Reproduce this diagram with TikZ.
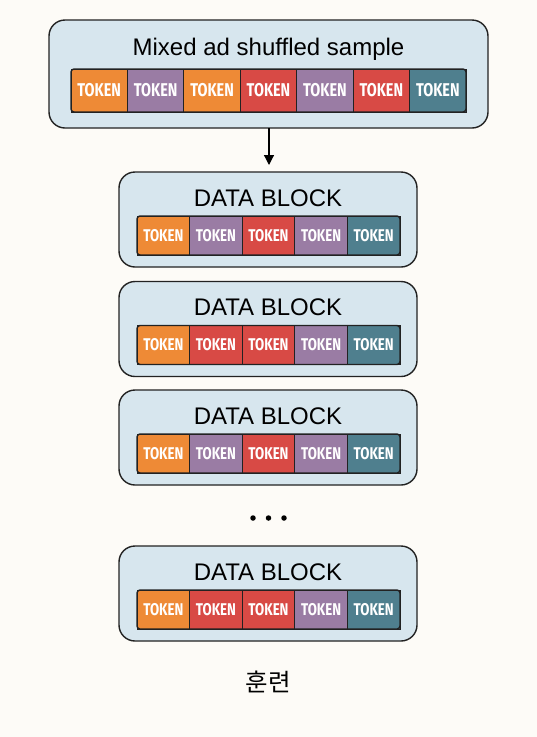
\documentclass[tikz,border=0pt]{standalone}
\usepackage{fontspec}
\setmainfont{Liberation Sans}
\newfontfamily\tokfont[FakeStretch=0.78]{Fira Sans}
\newfontfamily\krfont{Noto Sans CJK KR}
\usetikzlibrary{arrows.meta}
\definecolor{bg}{HTML}{FDFBF7}
\definecolor{boxfill}{HTML}{D7E6EE}
\definecolor{edge}{HTML}{222222}
\definecolor{tO}{HTML}{EE8A36}
\definecolor{tP}{HTML}{9A7CA4}
\definecolor{tR}{HTML}{D84A45}
\definecolor{tT}{HTML}{4F7F8E}
\tikzset{
  blockbox/.style={draw=edge, line width=1.4pt, fill=boxfill, rounded corners=16pt, inner sep=0pt},
  titletext/.style={font=\fontsize{24}{26}\selectfont, text=black, inner sep=0pt},
  tok/.style={draw=edge, line width=0.9pt, fill=#1, minimum height=39pt, minimum width=52.6pt, inner sep=0pt,
     text=white, font=\tokfont\bfseries\fontsize{17}{18}\selectfont},
  tokbig/.style={tok=#1, minimum height=43pt, minimum width=56.4pt, font=\tokfont\bfseries\fontsize{18.5}{19}\selectfont},
  stripframe/.style={draw=edge, line width=1.4pt, rounded corners=3pt, inner sep=0pt, fill=none},
  dot/.style={circle, fill=black, inner sep=0pt, minimum size=5.5pt},
  arr/.style={-{Triangle[width=10pt,length=10pt]}, line width=1.2pt, draw=black}
}
\begin{document}
\begin{tikzpicture}[x=1pt,y=-1pt]
\useasboundingbox[fill=bg] (0,0) rectangle (537,737);
% top box
\node[blockbox, minimum width=439pt, minimum height=108pt] (top) at (268.5,74) {};
\node[titletext] (toptitle) at (268.5,49) {Mixed ad shuffled sample};
\foreach \c [count=\i] in {tO,tP,tO,tR,tP,tR,tT}{
  \node[tokbig=\c] (top-t\i) at ({71+56.43*(\i-0.5)},90.5) {TOKEN};
}
\node[stripframe, minimum width=395pt, minimum height=43pt] (topstrip) at (268.5,90.5) {};
% data blocks
\foreach \n/\y/\cols in {1/219.5/{tO,tP,tR,tP,tT},2/329/{tO,tR,tR,tP,tT},3/437.5/{tO,tP,tR,tP,tT},4/593.5/{tO,tR,tR,tP,tT}}{
  \node[blockbox, minimum width=298pt, minimum height=95pt] (b\n) at (268,\y) {};
  \node[titletext] (b\n-title) at (268,\y-21.5) {DATA BLOCK};
  \foreach \c [count=\i] in \cols {
    \node[tok=\c] (b\n-t\i) at ({137+52.6*(\i-0.5)},\y+16) {TOKEN};
  }
  \node[stripframe, minimum width=263pt, minimum height=39pt] (b\n-strip) at (268.5,\y+16) {};
}
% arrow
\coordinate (arrS) at (269,128);
\coordinate (arrE) at (269,165);
\draw[arr] (arrS) -- (arrE);
% dots
\node[dot] (d1) at (253,518) {};
\node[dot] (d2) at (268.5,518) {};
\node[dot] (d3) at (284,518) {};
% label
\node[font=\krfont\fontsize{24.5}{26}\selectfont, inner sep=0pt] (train) at (268,682) {훈련};
\end{tikzpicture}
\end{document}
